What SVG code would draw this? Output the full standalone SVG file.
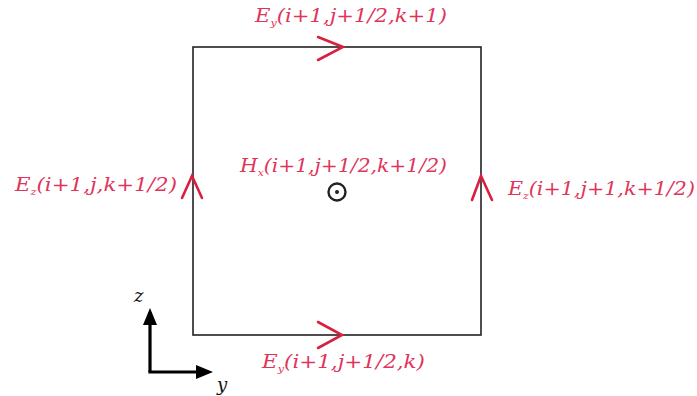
<svg xmlns="http://www.w3.org/2000/svg" width="697" height="396" viewBox="0 0 697 396">
<style>
.lbl{font-family:"DejaVu Serif","Liberation Serif",serif;font-style:italic;font-size:19px;fill:#e0355a}
.sub{font-size:10px}
.edge{fill:none;stroke:#222;stroke-width:1.6}
.chev{fill:none;stroke:#d8203f;stroke-width:2.6;stroke-linecap:round;stroke-linejoin:miter}
.axis{fill:none;stroke:#000;stroke-width:3.2}
.ax{font-family:"DejaVu Serif","Liberation Serif",serif;font-style:italic;font-size:18px;fill:#111}
</style>
<rect width="697" height="396" fill="#fff"/>
<g id="cell">
<rect class="edge" x="193" y="47" width="288" height="288"/>
</g>
<g id="connectors">
<path class="chev" d="M318,37 L343,47 L318,60"/>
<path class="chev" d="M318,322 L342,335 L318,348"/>
<path class="chev" d="M182,198 L192,176 L202,198"/>
<path class="chev" d="M472,200 L481,176 L492,200"/>
</g>
<g id="ey_top">
<text class="lbl" x="255" y="22" textLength="192" lengthAdjust="spacingAndGlyphs">E<tspan class="sub" dy="4">y</tspan><tspan dy="-4">(i+1,j+1/2,k+1)</tspan></text>
</g>
<g id="ey_bottom">
<text class="lbl" x="262" y="368" textLength="163" lengthAdjust="spacingAndGlyphs">E<tspan class="sub" dy="4">y</tspan><tspan dy="-4">(i+1,j+1/2,k)</tspan></text>
</g>
<g id="ez_left">
<text class="lbl" x="15" y="191" textLength="162" lengthAdjust="spacingAndGlyphs">E<tspan class="sub" dy="4">z</tspan><tspan dy="-4">(i+1,j,k+1/2)</tspan></text>
</g>
<g id="ez_right">
<text class="lbl" x="508" y="195" textLength="187" lengthAdjust="spacingAndGlyphs">E<tspan class="sub" dy="4">z</tspan><tspan dy="-4">(i+1,j+1,k+1/2)</tspan></text>
</g>
<g id="hx">
<text class="lbl" x="240" y="172" textLength="207" lengthAdjust="spacingAndGlyphs">H<tspan class="sub" dy="4">x</tspan><tspan dy="-4">(i+1,j+1/2,k+1/2)</tspan></text>
<circle cx="337" cy="192" r="8.5" fill="none" stroke="#222" stroke-width="2.4"/>
<circle cx="337" cy="192" r="2" fill="#222"/>
</g>
<g id="axes">
<path class="axis" d="M150,372 L150,312"/>
<path d="M143,325 L150,308 L157,325 Z" fill="#000"/>
<path class="axis" d="M148.4,372 L200,372"/>
<path d="M196,365 L213,372 L196,379 Z" fill="#000"/>
<text class="ax" x="134" y="302">z</text>
<text class="ax" x="217" y="391">y</text>
</g>
</svg>
